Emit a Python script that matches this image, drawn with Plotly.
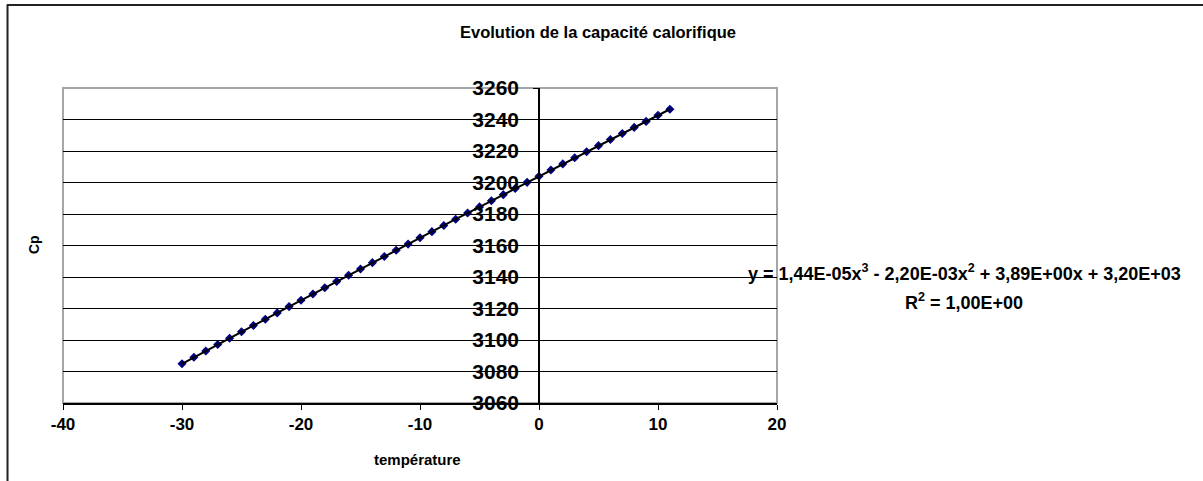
import plotly.graph_objects as go

# Température (°C) et capacité calorifique mesurée
temperature = [-30, -29, -28, -27, -26, -25, -24, -23, -22, -21, -20, -19, -18, -17,
               -16, -15, -14, -13, -12, -11, -10, -9, -8, -7, -6, -5, -4, -3, -2,
               -1, 0, 1, 2, 3, 4, 5, 6, 7, 8, 9, 10, 11]
cp = [3084.9, 3089.0, 3093.0, 3097.1, 3101.1, 3105.2, 3109.2, 3113.2, 3117.2,
      3121.2, 3125.2, 3129.2, 3133.2, 3137.2, 3141.1, 3145.1, 3149.1, 3153.0,
      3157.0, 3160.9, 3164.9, 3168.8, 3172.7, 3176.7, 3180.6, 3184.5, 3188.4,
      3192.3, 3196.2, 3200.1, 3204.0, 3207.9, 3211.8, 3215.7, 3219.5, 3223.4,
      3227.3, 3231.1, 3235.0, 3238.8, 3242.7, 3246.5]

x_ticks = [-40, -30, -20, -10, 0, 10, 20]
x_tick_labels = ["-40", "-30", "-20", "-10", "0", "10", "20"]
y_ticks = [3060, 3080, 3100, 3120, 3140, 3160, 3180, 3200, 3220, 3240, 3260]

title_text = "Evolution de la capacité calorifique"
x_title = "température"
y_title = "Cp"
equation = "y = 1,44E-05x<sup>3</sup> - 2,20E-03x<sup>2</sup> + 3,89E+00x + 3,20E+03"
r2_text = "R<sup>2</sup> = 1,00E+00"

FONT = "Arial, 'Liberation Sans', sans-serif"

fig = go.Figure()

# Points de mesure
fig.add_trace(go.Scatter(
    x=temperature, y=cp, mode="markers",
    marker=dict(symbol="diamond", size=7, color="#000080",
                line=dict(width=0)),
    showlegend=False, hoverinfo="x+y"))

# Courbe de tendance polynomiale
fig.add_trace(go.Scatter(
    x=temperature, y=cp, mode="lines",
    line=dict(color="black", width=2),
    showlegend=False, hoverinfo="skip"))

fig.update_layout(
    width=1203, height=481,
    margin=dict(l=63, r=426, t=88, b=78),
    paper_bgcolor="white", plot_bgcolor="white",
    font=dict(family=FONT, color="black"),
    xaxis=dict(
        range=[-40, 20], tickvals=x_ticks, ticktext=x_tick_labels,
        showgrid=False, zeroline=False,
        showline=True, linecolor="black", linewidth=1.5,
        ticks="outside", ticklen=5, tickcolor="black", tickwidth=1,
        tickfont=dict(size=17, family=FONT, color="black", weight="bold"),
        domain=[0, 1],
    ),
    yaxis=dict(
        range=[3060, 3260], tickvals=y_ticks, zeroline=False,
        showgrid=True, gridcolor="black", gridwidth=1,
        anchor="free", position=40 / 60,
        showline=True, linecolor="black", linewidth=1.5,
        ticks="outside", ticklen=5, tickcolor="black", tickwidth=1,
        ticklabelstandoff=10,
        tickfont=dict(size=21, family=FONT, color="black", weight="bold"),
    ),
    shapes=[
        # cadre de la zone de tracé
        dict(type="rect", xref="paper", yref="paper", x0=0, x1=1, y0=0, y1=1,
             line=dict(color="#a6a6a6", width=2), layer="below"),
        # bordure du graphique
        dict(type="line", xref="paper", yref="paper",
             x0=-0.0777, x1=-0.0777, y0=1.2635, y1=-0.3,
             line=dict(color="#222", width=2)),
        dict(type="line", xref="paper", yref="paper",
             x0=-0.0787, x1=1.7, y0=1.2635, y1=1.2635,
             line=dict(color="#222", width=2)),
    ],
    annotations=[
        dict(text=f"<b>{title_text}</b>", xref="paper", yref="paper",
             x=0.749, y=1.178, showarrow=False, xanchor="center",
             yanchor="middle", font=dict(size=16.5, family=FONT)),
        dict(text=f"<b>{x_title}</b>", xref="paper", yref="paper",
             x=0.497, y=-0.178, showarrow=False, xanchor="center",
             yanchor="middle", font=dict(size=15, family=FONT)),
        dict(text=f"<b>{y_title}</b>", xref="paper", yref="paper",
             x=-0.0406, y=0.5016, showarrow=False, textangle=-90,
             xanchor="center", yanchor="middle", font=dict(size=14, family=FONT)),
        dict(text=f"<b>{equation}</b>", xref="paper", yref="paper",
             x=1.263, y=0.413, showarrow=False, xanchor="center",
             yanchor="middle", font=dict(size=18, family=FONT)),
        dict(text=f"<b>{r2_text}</b>", xref="paper", yref="paper",
             x=1.262, y=0.321, showarrow=False, xanchor="center",
             yanchor="middle", font=dict(size=18, family=FONT)),
    ],
)

fig.write_html("out.html")
